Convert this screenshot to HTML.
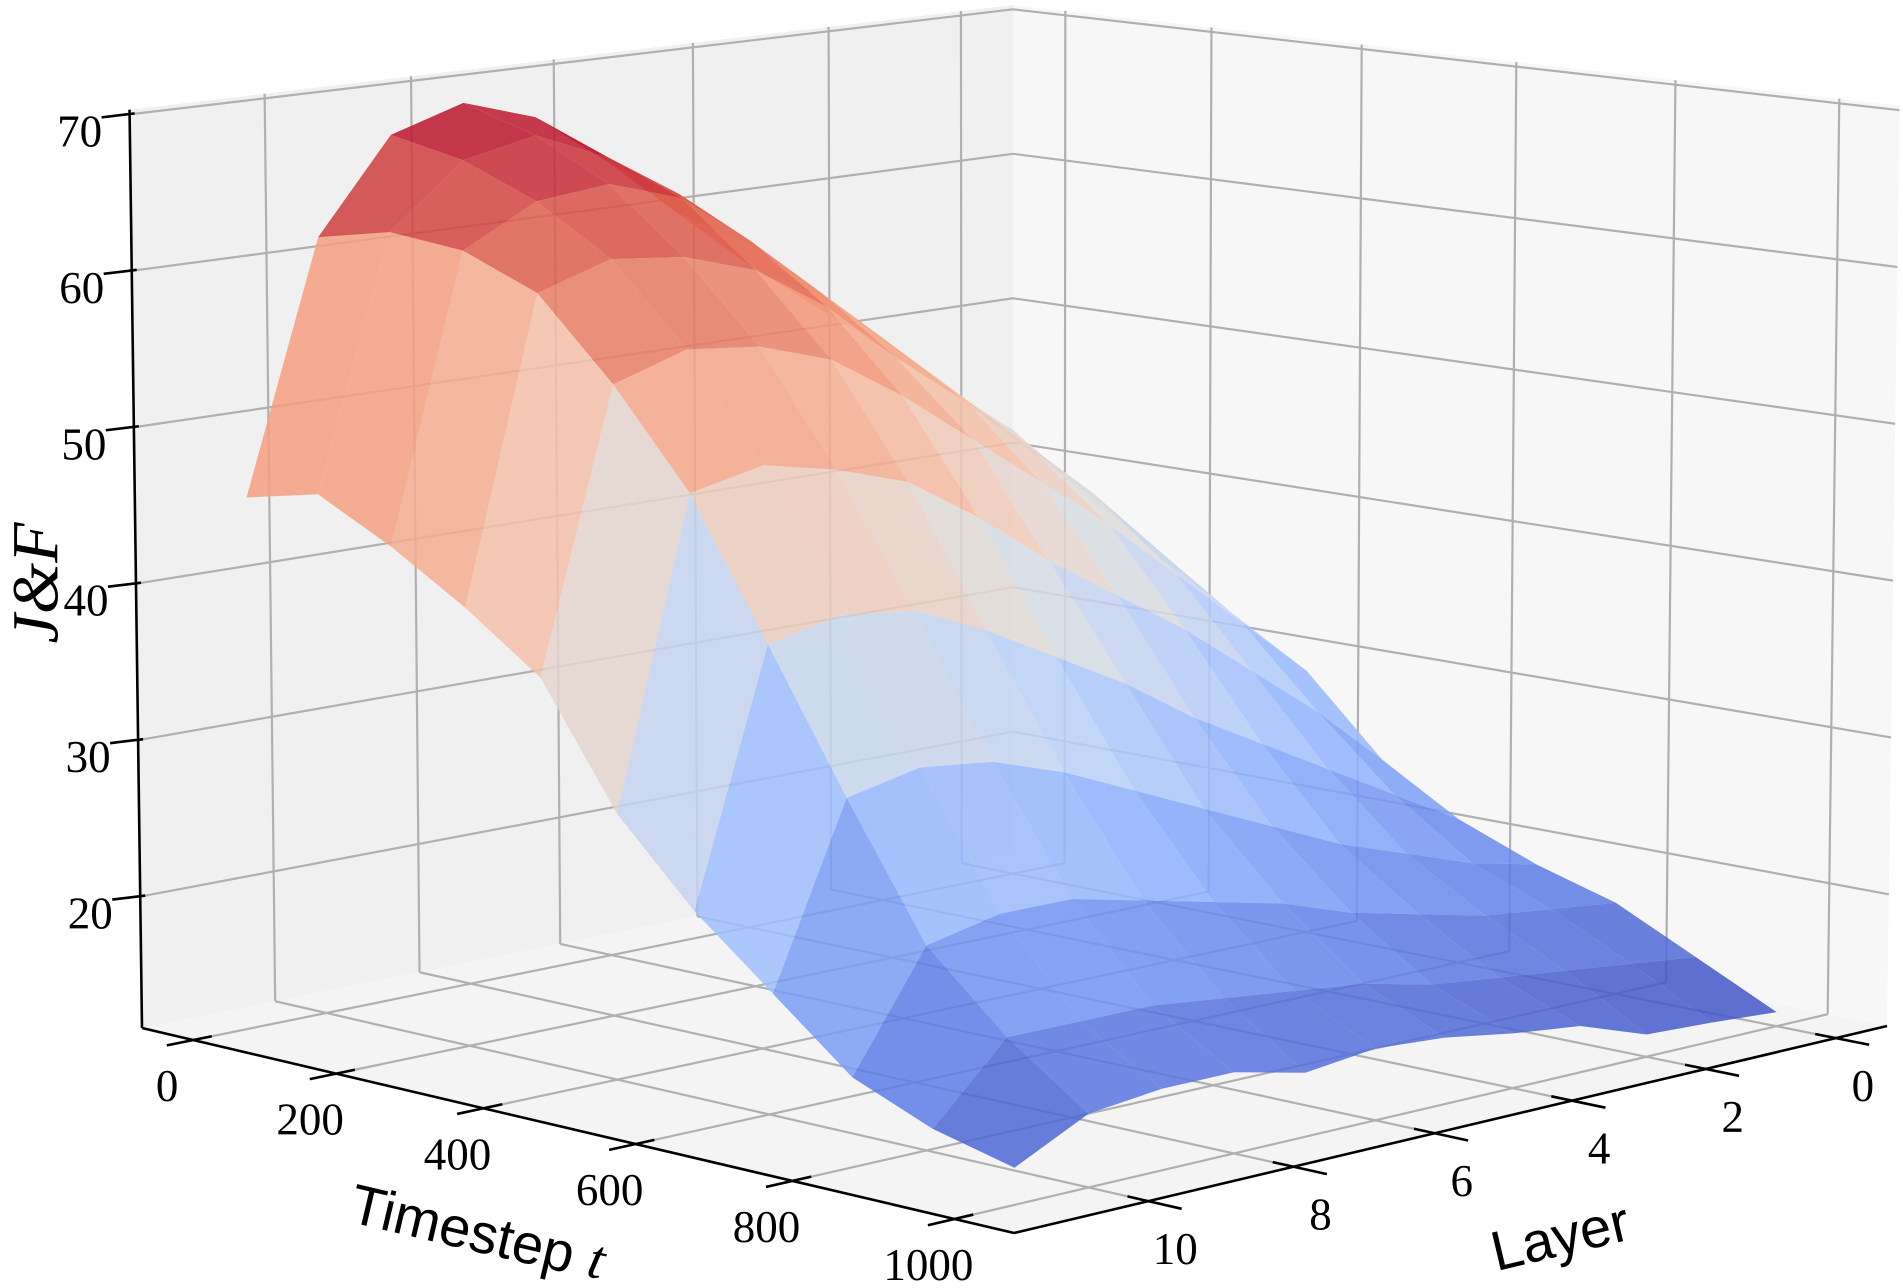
<!DOCTYPE html>
<html><head><meta charset="utf-8">
<style>
html,body{margin:0;padding:0;background:#fff;}
svg{display:block;}
.tick{font-family:"Liberation Serif","DejaVu Serif",serif;font-size:45px;fill:#000;}
.ttl{font-family:"Liberation Sans","DejaVu Sans",sans-serif;font-size:56px;fill:#000;}
</style></head>
<body>
<svg id="chart" width="1903" height="1288" viewBox="0 0 1903 1288" xmlns="http://www.w3.org/2000/svg">
<rect x="0" y="0" width="1903" height="1288" fill="#ffffff"/>
<g id="panes"></g>
<g id="grid"></g>
<g id="axes"></g>
<g id="labels"></g>
<g id="surface"></g>
<text class="ttl" transform="translate(478,1232) rotate(13.2)" text-anchor="middle" dominant-baseline="central">Timestep <tspan font-family="Liberation Serif, serif" font-style="italic">t</tspan></text>
<text class="ttl" transform="translate(1560,1236) rotate(-13.3)" text-anchor="middle" dominant-baseline="central">Layer</text>
<text transform="translate(36,583) rotate(-90)" text-anchor="middle" dominant-baseline="central" font-family="Liberation Serif, DejaVu Serif, serif" font-style="italic" font-size="66">J&amp;F</text>
</svg>
<script>
// ---- data ----
const timesteps = [0,100,200,300,400,500,600,700,800,900,1000];
const layers = [0,1,2,3,4,5,6,7,8,9,10,11];
const zLayer0  = [42,38.5,35,32,29,24,21,19,17.5,15,12.5];
const zLayer1  = [45.5,42.5,40,36.5,33,28,23.5,20,18,15.5,12.8];
const zLayer2  = [49,46.5,44,41,37,31.5,26,21.5,18.5,16,13];
const zLayer3  = [52.5,50.5,48,45,41,35,28.5,23,19.5,16.5,14.5];
const zLayer4  = [56,54.5,52,49,44.5,38,31,25,20.5,17,15];
const zLayer5  = [60,58.5,56,52.5,48,41,34,27,22,18,15.7];
const zLayer6  = [64,62.5,60,56.5,51.5,44.5,36.5,29,23,18.5,16];
const zLayer7  = [67.5,65.5,63.5,59.5,54.5,47.5,39,31,24,19,15.5];
const zLayer8  = [69,67.5,65,61,56,49,41,32.5,25,19.5,16.5];
const zLayer9  = [67.5,66.5,64.5,61.5,56.5,50,41.5,33,25,19.5,16.5];
const zLayer10 = [61.5,62.5,62,60,55,49,40.5,32,24,19.5,16];
const zLayer11 = [45.5,46.5,44,41,37.5,30,25,21,17,15,13.8];
const tTicks = [0,200,400,600,800,1000];
const layerTicks = [0,2,4,6,8,10];
const zTicks = [20,30,40,50,60,70];

const Z = [zLayer0,zLayer1,zLayer2,zLayer3,zLayer4,zLayer5,zLayer6,zLayer7,zLayer8,zLayer9,zLayer10,zLayer11];
const TMIN=-73, TMAX=1072, LMIN=-0.8, LMAX=11.8, ZMIN=11.6, ZMAX=70.3;
const Bc=[1013,853], Rc=[1887,1026], Fc=[1014,1233], Lc=[142,1028];
const dx1=Rc[0]-Fc[0], dx2=Lc[0]-Fc[0], dx3=Bc[0]-Rc[0]+Fc[0]-Lc[0];
const dy1=Rc[1]-Fc[1], dy2=Lc[1]-Fc[1], dy3=Bc[1]-Rc[1]+Fc[1]-Lc[1];
const den=dx1*dy2-dy1*dx2;
const G=(dx3*dy2-dy3*dx2)/den, H=(dx1*dy3-dy1*dx3)/den;
const A=Rc[0]-Bc[0]+G*Rc[0], Bb=Lc[0]-Bc[0]+H*Lc[0], C=Bc[0];
const D=Rc[1]-Bc[1]+G*Rc[1], E=Lc[1]-Bc[1]+H*Lc[1], F0=Bc[1];
const ZS=(Bc[1]-5)/(ZMAX-ZMIN);
function uOf(t){return (t-TMIN)/(TMAX-TMIN);}
function vOf(l){return (l-LMIN)/(LMAX-LMIN);}
function proj(t,l,z){
  const u=uOf(t), v=vOf(l);
  const w=1+G*u+H*v;
  const xf=(A*u+Bb*v+C)/w, yf=(D*u+E*v+F0)/w;
  const dz=z-ZMIN;
  return [xf+(xf-1013)*0.0143*dz/(ZMAX-ZMIN), yf-dz*ZS/w, w];
}
const NS="http://www.w3.org/2000/svg";
function mk(tag,parent,attrs){const e=document.createElementNS(NS,tag);for(const k in attrs)e.setAttribute(k,attrs[k]);parent.appendChild(e);return e;}
function pts(arr){return arr.map(p=>p[0].toFixed(1)+','+p[1].toFixed(1)).join(' ');}

const panes=document.getElementById('panes');
let p=mk('polygon',panes,{points:pts([proj(TMIN,LMIN,ZMIN),proj(TMIN,LMAX,ZMIN),proj(TMIN,LMAX,ZMAX),proj(TMIN,LMIN,ZMAX)]),fill:'#f0f0f0'});


p=mk('polygon',panes,{points:pts([proj(TMIN,LMIN,ZMIN),proj(TMAX,LMIN,ZMIN),proj(TMAX,LMIN,ZMAX),proj(TMIN,LMIN,ZMAX)]),fill:'#f7f7f7'});


p=mk('polygon',panes,{points:pts([proj(TMIN,LMIN,ZMIN),proj(TMAX,LMIN,ZMIN),proj(TMAX,LMAX,ZMIN),proj(TMIN,LMAX,ZMIN)]),fill:'#f4f4f4'});



const grid=document.getElementById('grid');
function gline(a,b,name){const l=mk('line',grid,{x1:a[0],y1:a[1],x2:b[0],y2:b[1],stroke:'#b0b0b0','stroke-width':2.2});

}
tTicks.forEach(t=>{gline(proj(t,LMIN,ZMIN),proj(t,LMAX,ZMIN),'floor-grid-t');gline(proj(t,LMIN,ZMIN),proj(t,LMIN,ZMAX),'wall-grid-t');});
layerTicks.forEach(l=>{gline(proj(TMIN,l,ZMIN),proj(TMAX,l,ZMIN),'floor-grid-layer');gline(proj(TMIN,l,ZMIN),proj(TMIN,l,ZMAX),'wall-grid-layer');});
zTicks.forEach(z=>{gline(proj(TMIN,LMAX,z),proj(TMIN,LMIN,z),'wall-grid-z');gline(proj(TMIN,LMIN,z),proj(TMAX,LMIN,z),'wall-grid-z');});

const axes=document.getElementById('axes');
function aline(a,b,name){const l=mk('line',axes,{x1:a[0],y1:a[1],x2:b[0],y2:b[1],stroke:'#000','stroke-width':2.6});

}
aline(proj(TMIN,LMAX,ZMIN),proj(TMIN,LMAX,ZMAX),'z-axis-line');
aline(proj(TMIN,LMAX,ZMIN),proj(TMAX,LMAX,ZMIN),'x-axis-line');
aline(proj(TMAX,LMAX,ZMIN),proj(TMAX,LMIN,ZMIN),'y-axis-line');
const labels=document.getElementById('labels');
function txt(x,y,s,name){const e=mk('text',labels,{x:x,y:y,class:'tick','text-anchor':'middle','dominant-baseline':'central'});e.textContent=s;

}
tTicks.forEach(t=>{
  const a=proj(t,LMAX-0.25,ZMIN), b=proj(t,LMAX+0.35,ZMIN);
  aline(a,b,'x-tick');
  const c=proj(t,LMAX,ZMIN);
  txt(c[0]-26,c[1]+46,String(t),'x-tick-label');
});
layerTicks.forEach(l=>{
  const a=proj(TMAX-25,l,ZMIN), b=proj(TMAX+40,l,ZMIN);
  aline(a,b,'y-tick');
  const c=proj(TMAX,l,ZMIN);
  txt(c[0]+27,c[1]+48,String(l),'y-tick-label');
});
zTicks.forEach(z=>{
  const c=proj(TMIN,LMAX,z);
  aline([c[0]-28,c[1]+3],[c[0]+5,c[1]-1],'z-tick');
  txt(c[0]-50,c[1]+17,String(z),'z-tick-label');
});

const cmapStops=[[59,76,192],[97,130,234],[141,176,254],[184,208,249],[221,221,221],[245,196,173],[244,154,123],[222,96,77],[180,4,38]];
function cmap(f){f=Math.max(0,Math.min(1,f));const s=f*8;const i=Math.min(7,Math.floor(s));const r=s-i;const a=cmapStops[i],b=cmapStops[i+1];
return 'rgb('+[0,1,2].map(k=>Math.round(a[k]+(b[k]-a[k])*r)).join(',')+')';}
let zmn=Infinity,zmx=-Infinity;Z.forEach(r=>r.forEach(z=>{zmn=Math.min(zmn,z);zmx=Math.max(zmx,z);}));
const quads=[];
for(let j=0;j<layers.length-1;j++){for(let i=0;i<timesteps.length-1;i++){
  const c=[[i,j],[i+1,j],[i+1,j+1],[i,j+1]];
  const P=c.map(([a,b])=>proj(timesteps[a],layers[b],Z[b][a]));
  const zm=c.reduce((s,[a,b])=>s+Z[b][a],0)/4;
  const tc=(timesteps[i]+timesteps[i+1])/2, lc=(layers[j]+layers[j+1])/2;
  const w=1+G*uOf(tc)+H*vOf(lc);
  quads.push({P,zm,key:w-0.04*(zm-ZMIN)/(ZMAX-ZMIN)});
}}
quads.sort((a,b)=>b.key-a.key);
const surf=document.getElementById('surface');
quads.forEach(q=>{
  const e=mk('polygon',surf,{points:pts(q.P),fill:cmap((q.zm-zmn)/(zmx-zmn)),'fill-opacity':0.85});
  
  
});
</script>
</body></html>
